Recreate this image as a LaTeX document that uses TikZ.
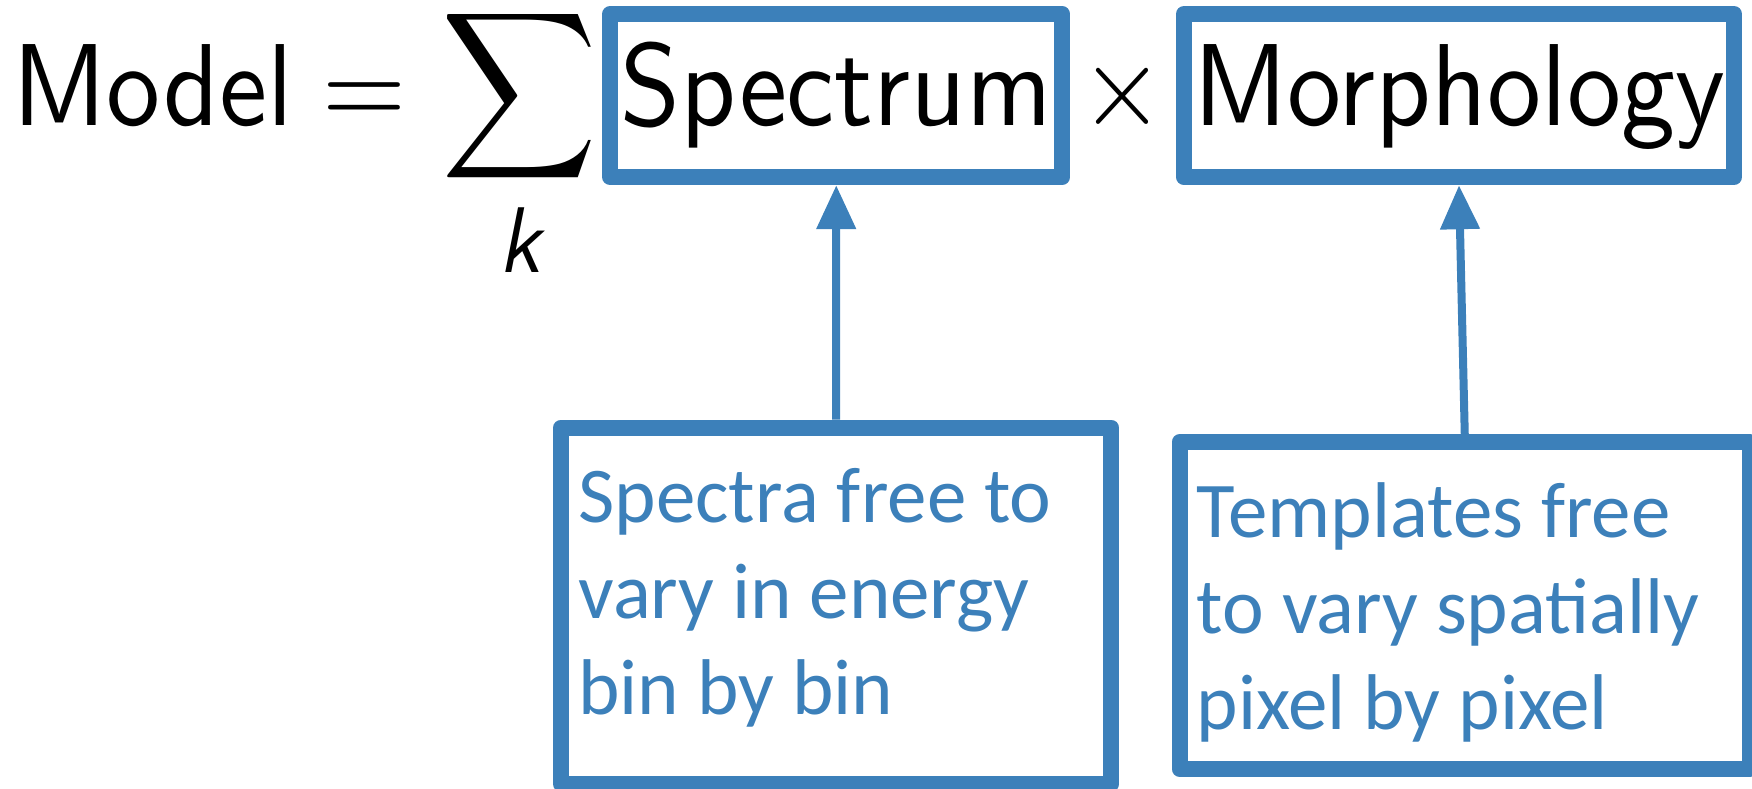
\documentclass[tikz,border=0pt]{standalone}
\usepackage{fontspec}
\usepackage{graphicx}
\usetikzlibrary{arrows.meta}
\newfontfamily\notefont{Carlito}
% the 10pt design of Latin Modern Sans, scaled up
\newfontfamily\eqfont{lmsans10-regular.otf}[ItalicFont=lmsans10-oblique.otf]
\definecolor{accent}{RGB}{60,128,186}
% the formula is set slightly taller than wide
\newcommand\vstretch[1]{\scalebox{1}[1.08]{#1}}
\newcommand\bigsym[1]{\scalebox{5.4}[5.83]{\fontsize{10}{12}\selectfont$\displaystyle#1$}}

\begin{document}
\begin{tikzpicture}[x=0.5pt,y=-0.5pt,
  eq/.style={inner sep=0pt, font=\fontsize{54}{60}\selectfont\eqfont},
  frame/.style={draw=accent, line width=8pt, line join=round, inner sep=0pt},
  termbox/.style={frame, eq, minimum height=81.6pt, text height=40pt, text depth=9.9pt},
  notebox/.style={frame},
  note/.style={inner sep=0pt, text=accent, anchor=base west,
               font=\fontsize{39.5}{48}\selectfont\notefont},
  pointer/.style={draw=accent, line width=4pt, -{Triangle[length=22pt,width=19pt]}}]

\useasboundingbox (0,0) rectangle (1752,788);

% formula
\node[eq, anchor=base west] (model) at (12,125.7) {\vstretch{Model}};
\node[eq, anchor=base] (equals) at (364,125.7) {\bigsym{=}};
\node[eq, anchor=base] (sum) at (519,125.7) {\bigsym{\sum}};
\node[eq, anchor=base] (index) at (520,272) {\fontsize{43.2}{50}\selectfont\vstretch{\itshape k}};
\node[termbox, minimum width=226pt] (spec) at (836.25,95.6) {\vstretch{Spectrum}};
\node[eq, anchor=base] (times) at (1122,125.7) {\bigsym{\times}};
\node[termbox, minimum width=275pt] (morph) at (1459,95.6) {\vstretch{Morphology}};

% explanatory boxes
\node[notebox, minimum width=275.15pt, minimum height=178.25pt] (specnote) at (836.15,605.75) {};
\node[notebox, minimum width=285.25pt, minimum height=163.5pt] (morphnote) at (1464.75,605.5) {};

\node[note] (spectext) at (578,522)
  {\begin{tabular}[t]{@{}l@{}}Spectra free to\\vary in energy\\bin by bin\end{tabular}};
\node[note] (morphtext) at (1196.5,537)
  {\begin{tabular}[t]{@{}l@{}}Templates free\\to vary spatially\\pixel by pixel\end{tabular}};

% pointers
\draw[pointer] (specnote.north) -- (spec.south);
\draw[pointer] (morphnote.north) -- (morph.south);
\end{tikzpicture}
\end{document}
